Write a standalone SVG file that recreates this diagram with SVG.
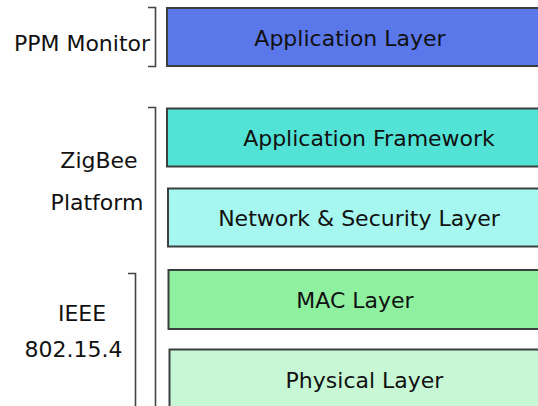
<svg xmlns="http://www.w3.org/2000/svg" width="538" height="406" viewBox="0 0 538 406">
<style>
  .box { stroke: #3a3f3f; stroke-width: 2; }
  .lbl { font-family: "DejaVu Sans", Verdana, sans-serif; font-size: 22px; fill: #111; text-anchor: middle; }
  .br { fill: none; stroke: #444; stroke-width: 1.6; }
</style>
<rect x="0" y="0" width="538" height="406" fill="#fefefe"/>
<g id="brackets">
  <path class="br" d="M148 7.5 H155.5 V66.5 H148"/>
  <path class="br" d="M148 107.5 H155.5 V406"/>
  <path class="br" d="M128 273.5 H135.5 V406"/>
</g>
<g id="ppm-monitor">
  <text class="lbl" x="82" y="51">PPM Monitor</text>
</g>
<g id="zigbee-platform">
  <text class="lbl" x="99" y="168">ZigBee</text>
  <text class="lbl" x="97" y="210">Platform</text>
</g>
<g id="ieee-802154">
  <text class="lbl" x="82" y="321">IEEE</text>
  <text class="lbl" x="73.5" y="357">802.15.4</text>
</g>
<g id="application-layer">
  <rect class="box" x="167" y="8" width="380" height="58" fill="#5b78eb"/>
  <text class="lbl" x="350" y="46">Application Layer</text>
</g>
<g id="application-framework">
  <rect class="box" x="167" y="108.5" width="380" height="58" fill="#52e2d6"/>
  <text class="lbl" x="369" y="146">Application Framework</text>
</g>
<g id="network-security-layer">
  <rect class="box" x="168" y="188.5" width="380" height="58" fill="#a6f7ef"/>
  <text class="lbl" x="359" y="226">Network &amp; Security Layer</text>
</g>
<g id="mac-layer">
  <rect class="box" x="168.5" y="270" width="380" height="59" fill="#8ff09f"/>
  <text class="lbl" x="355" y="308">MAC Layer</text>
</g>
<g id="physical-layer">
  <rect class="box" x="169.5" y="349.5" width="380" height="70" fill="#c8f7d6"/>
  <text class="lbl" x="364.5" y="388">Physical Layer</text>
</g>
</svg>
